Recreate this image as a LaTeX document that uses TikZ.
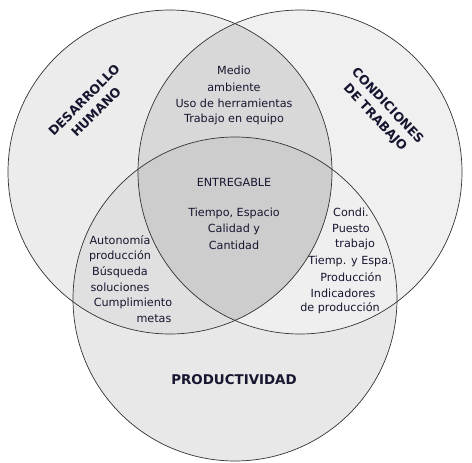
\documentclass[tikz,border=0pt]{standalone}
\usepackage{fontspec}
\setmainfont{DejaVu Sans}
\usetikzlibrary{positioning}
\definecolor{ink}{RGB}{22,22,48}
\definecolor{lonly}{RGB}{236,236,236}
\definecolor{ronly}{RGB}{240,240,240}
\definecolor{bonly}{RGB}{232,232,232}
\definecolor{lr}{RGB}{216,216,216}
\definecolor{lb}{RGB}{224,224,224}
\definecolor{rb}{RGB}{239,239,239}
\definecolor{lrb}{RGB}{205,205,205}

\begin{document}
\begin{tikzpicture}[x=1pt,y=-1pt,
        set circle/.style={draw=black!80,line width=0.7pt},
        item text/.style={font=\fontsize{11.2}{16}\selectfont,text=ink,inner sep=0pt},
        set title/.style={font=\fontsize{12.6}{17}\selectfont\bfseries,text=ink,align=center,inner sep=0pt}]
                        \useasboundingbox[fill=white] (0,0) rectangle (472,463);
                        \coordinate (L) at (170,172);
                        \coordinate (R) at (300,172);
                        \coordinate (B) at (235,299);

                        %\fill[lonly] (L) circle (162);
                        \fill[lonly] (L) circle (162);
                        \fill[ronly] (R) circle (162);
                        \fill[bonly] (B) circle (162);
                        \begin{scope}
                          \clip (R) circle (162);
                          \fill[rb] (B) circle (162);
                        \end{scope}
                        \begin{scope}
                          \clip (L) circle (162);
                          \fill[lb] (B) circle (162);
                          \clip (R) circle (162);
                          \fill[lr] (L) circle (162);
                          \fill[lrb] (B) circle (162);
                        \end{scope}
                        \draw[set circle] (L) circle (162);
                        \draw[set circle] (R) circle (162);
                        \draw[set circle] (B) circle (162);

                        \node[set title,rotate=45] (dh) at (90,106) {DESARROLLO\\HUMANO};
                        \node[set title,rotate=-47] (ct) at (381,112) {CONDICIONES\\DE TRABAJO};
                        \node[set title,font=\fontsize{13.4}{15}\selectfont\bfseries] (pr) at (234,380) {PRODUCTIVIDAD};

                        \node[item text] (1) at (234,70) {Medio};
                        \node[item text] (2) at (234,87) {ambiente};
                        \node[item text] (3) at (234,103) {Uso de herramientas};
                        \node[item text] (4) at (234,119) {Trabajo en equipo};

                        \node[item text] (5) at (234,182) {ENTREGABLE};
                        \node[item text] (6) at (234,213) {Tiempo, Espacio};
                        \node[item text] (7) at (234,229) {Calidad y};
                        \node[item text] (8) at (234,245) {Cantidad};

                        \node[item text] (9) at (120,240) {Autonomía};
                        \node[item text] (10) at (120,256) {producción};
                        \node[item text] (11) at (120,272) {Búsqueda};
                        \node[item text] (12) at (120,287) {soluciones};
                        \node[item text] (13) at (133,303) {Cumplimiento};
                        \node[item text] (14) at (154,319) {metas};

                        \node[item text] (15) at (351,212) {Condi.};
                        \node[item text] (16) at (351,228) {Puesto};
                        \node[item text] (17) at (355,244) {trabajo};
                        \node[item text] (18) at (350,261) {Tiemp. y Espa.};
                        \node[item text] (19) at (351,277) {Producción};
                        \node[item text] (20) at (343,293) {Indicadores};
                        \node[item text] (21) at (340,308) {de producción};
        \end{tikzpicture}
\end{document}
